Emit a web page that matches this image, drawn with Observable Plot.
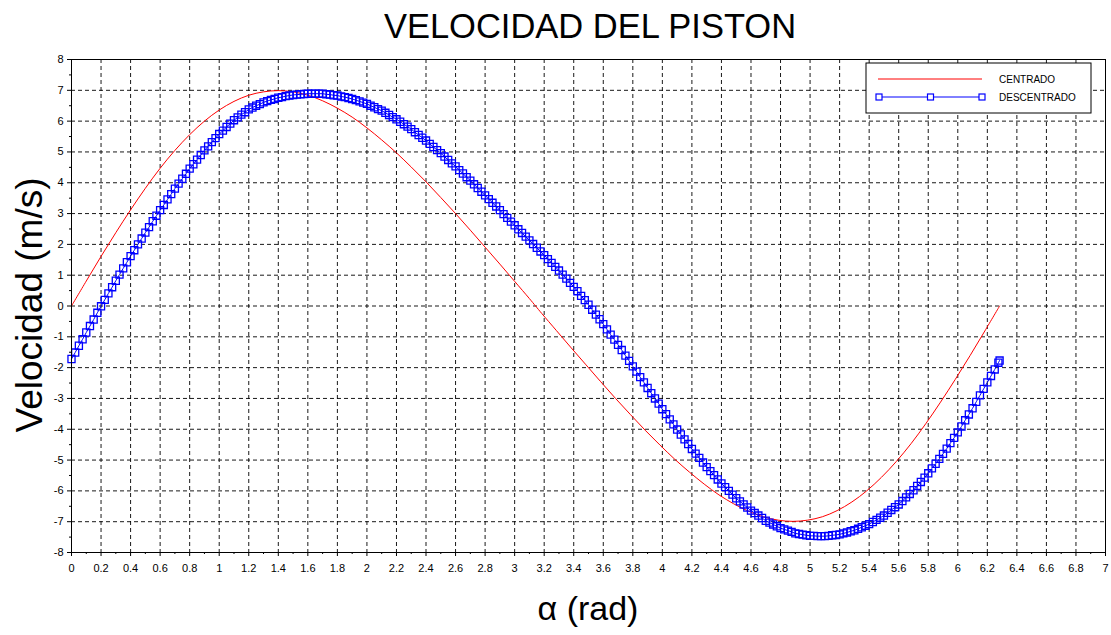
<!DOCTYPE html>
<html><head><meta charset="utf-8">
<script src="https://cdn.jsdelivr.net/npm/d3@7"></script>
<script src="https://cdn.jsdelivr.net/npm/@observablehq/plot@0.6"></script>
<style>body{margin:0;background:#fff;} svg{display:block}</style>
</head><body><div id="chart"></div>
<script>
// ---- data ----
// CENTRADO (red line)
const alphaC = [0,0.1,0.2,0.3,0.4,0.5,0.6,0.7,0.8,0.9,1.0,1.1,1.2,1.3,1.4,1.5,1.6,1.7,1.8,1.9,2.0,2.1,2.2,2.3,2.4,2.5,2.6,2.7,2.8,2.9,3.0,3.1,3.1416,
  3.1832,3.2832,3.3832,3.4832,3.5832,3.6832,3.7832,3.8832,3.9832,4.0832,4.1832,4.2832,4.3832,4.4832,4.5832,4.6832,4.7832,4.8832,4.9832,5.0832,
  5.1832,5.2832,5.3832,5.4832,5.5832,5.6832,5.7832,5.8832,5.9832,6.0832,6.1832,6.2832];
const velC = [0,0.81,1.61,2.38,3.12,3.82,4.47,5.05,5.56,6.00,6.36,6.64,6.84,6.95,6.99,6.95,6.84,6.66,6.42,6.13,5.78,5.39,4.97,4.51,4.03,3.52,3.00,2.46,1.91,1.36,0.80,0.24,0,
  -0.24,-0.80,-1.36,-1.91,-2.46,-3.00,-3.52,-4.03,-4.51,-4.97,-5.39,-5.78,-6.13,-6.42,-6.66,-6.84,-6.95,-6.99,-6.95,-6.84,
  -6.64,-6.36,-6.00,-5.56,-5.05,-4.47,-3.82,-3.12,-2.38,-1.61,-0.81,0];
// DESCENTRADO (blue line with square markers)
const alphaD = [
  0,0.025,0.05,0.075, 0.1,0.125,0.15,0.175, 0.2,0.225,0.25,0.275, 0.3,0.325,0.35,0.375, 0.4,0.425,0.45,0.475,
  0.5,0.525,0.55,0.575, 0.6,0.625,0.65,0.675, 0.7,0.725,0.75,0.775, 0.8,0.825,0.85,0.875, 0.9,0.925,0.95,0.975,
  1.0,1.025,1.05,1.075, 1.1,1.125,1.15,1.175, 1.2,1.225,1.25,1.275, 1.3,1.325,1.35,1.375, 1.4,1.425,1.45,1.475,
  1.5,1.525,1.55,1.575, 1.6,1.625,1.65,1.675, 1.7,1.725,1.75,1.775, 1.8,1.825,1.85,1.875, 1.9,1.925,1.95,1.975,
  2.0,2.025,2.05,2.075, 2.1,2.125,2.15,2.175, 2.2,2.225,2.25,2.275, 2.3,2.325,2.35,2.375, 2.4,2.425,2.45,2.475,
  2.5,2.525,2.55,2.575, 2.6,2.625,2.65,2.675, 2.7,2.725,2.75,2.775, 2.8,2.825,2.85,2.875, 2.9,2.925,2.95,2.975,
  3.0,3.025,3.05,3.075, 3.1,3.125,3.15,3.175, 3.2,3.225,3.25,3.275, 3.3,3.325,3.35,3.375, 3.4,3.425,3.45,3.475,
  3.5,3.525,3.55,3.575, 3.6,3.625,3.65,3.675, 3.7,3.725,3.75,3.775, 3.8,3.825,3.85,3.875, 3.9,3.925,3.95,3.975,
  4.0,4.025,4.05,4.075, 4.1,4.125,4.15,4.175, 4.2,4.225,4.25,4.275, 4.3,4.325,4.35,4.375, 4.4,4.425,4.45,4.475,
  4.5,4.525,4.55,4.575, 4.6,4.625,4.65,4.675, 4.7,4.725,4.75,4.775, 4.8,4.825,4.85,4.875, 4.9,4.925,4.95,4.975,
  5.0,5.025,5.05,5.075, 5.1,5.125,5.15,5.175, 5.2,5.225,5.25,5.275, 5.3,5.325,5.35,5.375, 5.4,5.425,5.45,5.475,
  5.5,5.525,5.55,5.575, 5.6,5.625,5.65,5.675, 5.7,5.725,5.75,5.775, 5.8,5.825,5.85,5.875, 5.9,5.925,5.95,5.975,
  6.0,6.025,6.05,6.075, 6.1,6.125,6.15,6.175, 6.2,6.225,6.25,6.275, 6.283];
const velD = [
  -1.72,-1.51,-1.29,-1.08, -0.86,-0.65,-0.44,-0.22, -0.01,0.20,0.41,0.61, 0.82,1.02,1.22,1.42, 1.62,1.81,2.00,2.19,
  2.38,2.56,2.75,2.93, 3.11,3.28,3.46,3.63, 3.81,3.97,4.13,4.29, 4.46,4.60,4.75,4.90, 5.05,5.18,5.32,5.45,
  5.58,5.69,5.81,5.92, 6.03,6.12,6.21,6.29, 6.38,6.44,6.50,6.55, 6.61,6.65,6.69,6.72, 6.76,6.78,6.81,6.83,
  6.85,6.86,6.87,6.88, 6.89,6.89,6.89,6.89, 6.89,6.87,6.86,6.84, 6.83,6.80,6.78,6.75, 6.72,6.68,6.64,6.60,
  6.56,6.50,6.45,6.39, 6.34,6.27,6.20,6.13, 6.06,5.98,5.90,5.82, 5.74,5.64,5.55,5.46, 5.37,5.26,5.16,5.06,
  4.96,4.85,4.74,4.63, 4.53,4.41,4.30,4.18, 4.07,3.95,3.83,3.71, 3.59,3.47,3.35,3.23, 3.11,2.98,2.86,2.74,
  2.62,2.49,2.37,2.25, 2.13,2.01,1.89,1.77, 1.65,1.52,1.40,1.27, 1.15,1.02,0.89,0.75, 0.62,0.48,0.33,0.19,
  0.04,-0.12,-0.28,-0.43, -0.59,-0.76,-0.93,-1.09, -1.26,-1.43,-1.61,-1.78, -1.96,-2.13,-2.31,-2.48, -2.66,-2.83,-3.00,-3.17,
  -3.35,-3.51,-3.68,-3.84, -4.01,-4.17,-4.33,-4.48, -4.64,-4.79,-4.93,-5.08, -5.23,-5.36,-5.49,-5.63, -5.76,-5.88,-6.00,-6.12,
  -6.24,-6.34,-6.44,-6.54, -6.64,-6.72,-6.80,-6.88, -6.97,-7.03,-7.09,-7.15, -7.21,-7.25,-7.29,-7.33, -7.38,-7.40,-7.42,-7.44,
  -7.46,-7.46,-7.47,-7.47, -7.47,-7.46,-7.44,-7.43, -7.41,-7.38,-7.35,-7.31, -7.28,-7.23,-7.18,-7.13, -7.08,-7.01,-6.94,-6.87,
  -6.80,-6.71,-6.62,-6.53, -6.44,-6.33,-6.21,-6.10, -5.98,-5.84,-5.71,-5.57, -5.43,-5.27,-5.12,-4.96, -4.80,-4.63,-4.45,-4.28,
  -4.10,-3.91,-3.71,-3.52, -3.32,-3.11,-2.90,-2.69, -2.48,-2.27,-2.06,-1.84, -1.77];
const xTicks = [0,0.2,0.4,0.6,0.8,1,1.2,1.4,1.6,1.8,2,2.2,2.4,2.6,2.8,3,3.2,3.4,3.6,3.8,4,4.2,4.4,4.6,4.8,5,5.2,5.4,5.6,5.8,6,6.2,6.4,6.6,6.8,7];
const xTickLabels = ["0","0.2","0.4","0.6","0.8","1","1.2","1.4","1.6","1.8","2","2.2","2.4","2.6","2.8","3","3.2","3.4","3.6","3.8","4","4.2","4.4","4.6","4.8","5","5.2","5.4","5.6","5.8","6","6.2","6.4","6.6","6.8","7"];
const xMinor = [0.1,0.3,0.5,0.7,0.9,1.1,1.3,1.5,1.7,1.9,2.1,2.3,2.5,2.7,2.9,3.1,3.3,3.5,3.7,3.9,4.1,4.3,4.5,4.7,4.9,5.1,5.3,5.5,5.7,5.9,6.1,6.3,6.5,6.7,6.9];
const yTicks = [-8,-7,-6,-5,-4,-3,-2,-1,0,1,2,3,4,5,6,7,8];
const yMinor = [-7.5,-6.5,-5.5,-4.5,-3.5,-2.5,-1.5,-0.5,0.5,1.5,2.5,3.5,4.5,5.5,6.5,7.5];
const seriesNames = ["CENTRADO","DESCENTRADO"];
const title = "VELOCIDAD DEL PISTON";
const xLabel = "α (rad)";
const yLabel = "Velocidad (m/s)";

// ---- build ----
const centrado = alphaC.map((a,i)=>({a, v: velC[i]}));
const descentrado = alphaD.map((a,i)=>({a, v: velD[i]}));
const W = 1111, H = 635;
const M = {top:59, right:6, bottom:83, left:71};
const font = "'Liberation Sans', Arial, Helvetica, sans-serif";
const BLUE = "#0000ff", RED = "#ff0000";

const chart = Plot.plot({
  width: W, height: H,
  marginTop: M.top, marginRight: M.right, marginBottom: M.bottom, marginLeft: M.left,
  style: {fontFamily: font, fontSize: "11px", color: "#000", background: "#fff", overflow: "visible"},
  x: {domain: [0, 7], label: null},
  y: {domain: [-8, 8], label: null},
  marks: [
    Plot.gridX(xTicks, {stroke: "#000", strokeOpacity: 0.9, strokeDasharray: "4,3"}),
    Plot.gridY(yTicks, {stroke: "#000", strokeOpacity: 0.9, strokeDasharray: "4,3"}),
    Plot.axisX(xTicks, {tickSize: 4, tickPadding: 8, tickFormat: (d, i) => xTickLabels[i], label: null}),
    Plot.axisX(xMinor, {tickSize: 2, tickFormat: () => "", label: null}),
    Plot.axisY(yTicks, {tickSize: 4, tickPadding: 4, tickFormat: d => String(d), label: null}),
    Plot.axisY(yMinor, {tickSize: 2, tickFormat: () => "", label: null}),
    Plot.line(centrado, {x: "a", y: "v", stroke: RED, strokeWidth: 1, curve: "catmull-rom"}),
    Plot.line(descentrado, {x: "a", y: "v", stroke: BLUE, strokeWidth: 1}),
    Plot.dot(descentrado, {x: "a", y: "v", symbol: "square", r: 4, stroke: BLUE, fill: "none", strokeWidth: 1.3}),
    Plot.frame({stroke: "#000", strokeWidth: 1})
  ]
});
document.getElementById("chart").appendChild(chart);

const svg = d3.select(chart);
// title and axis labels
svg.append("text").attr("x", 590).attr("y", 38).attr("text-anchor", "middle")
  .style("font-family", font).style("font-size", "34.5px").attr("fill", "#000").text(title);
svg.append("text").attr("x", 588).attr("y", 620).attr("text-anchor", "middle")
  .style("font-family", font).style("font-size", "34px").attr("fill", "#000").text(xLabel);
svg.append("text").attr("transform", "translate(42,305) rotate(-90)").attr("text-anchor", "middle")
  .style("font-family", font).style("font-size", "37px").attr("fill", "#000").text(yLabel);

// legend
const lg = svg.append("g");
lg.append("rect").attr("x", 866).attr("y", 63).attr("width", 225).attr("height", 50)
  .attr("fill", "#fff").attr("stroke", "#000").attr("stroke-width", 1);
lg.append("line").attr("x1", 878).attr("x2", 982).attr("y1", 79).attr("y2", 79).attr("stroke", RED);
lg.append("line").attr("x1", 879).attr("x2", 982).attr("y1", 97).attr("y2", 97).attr("stroke", BLUE);
[879, 930.5, 982].forEach(x => lg.append("rect").attr("x", x - 3).attr("y", 94).attr("width", 6).attr("height", 6)
  .attr("fill", "#fff").attr("stroke", BLUE).attr("stroke-width", 1.2));
lg.append("text").attr("x", 999).attr("y", 82.5).attr("text-anchor", "start").style("font-family", font).style("font-size", "10px").text(seriesNames[0]);
lg.append("text").attr("x", 999).attr("y", 100.5).attr("text-anchor", "start").style("font-family", font).style("font-size", "10px").text(seriesNames[1]);
</script></body></html>
